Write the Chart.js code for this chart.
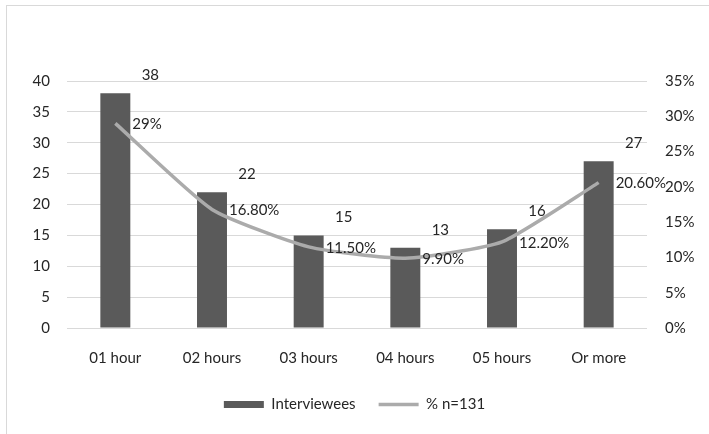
<!DOCTYPE html>
<html>
<head>
<meta charset="utf-8">
<script src="https://cdn.jsdelivr.net/npm/chart.js@4/dist/chart.umd.min.js"></script>
<style>
  html, body { margin: 0; padding: 0; background: #fff; }
  #wrap { position: relative; width: 709px; height: 434px; }
  #frame { position: absolute; left: 6px; top: 5px; right: -10px; bottom: -10px;
           border-left: 1px solid #d9d9d9; border-top: 1px solid #d9d9d9; }
  canvas { position: absolute; left: 0; top: 0; }
</style>
</head>
<body>
<div id="wrap">
  <div id="frame"></div>
  <canvas id="c" width="709" height="434"></canvas>
</div>
<script>
// Time spent per day, number of interviewees and their share
const categories = ['01 hour', '02 hours', '03 hours', '04 hours', '05 hours', 'Or more'];
const interviewees = [38, 22, 15, 13, 16, 27];
const shareLabels = ['29%', '16.80%', '11.50%', '9.90%', '12.20%', '20.60%'];
const shareValues = shareLabels.map(s => parseFloat(s));
const countTicks = [0, 5, 10, 15, 20, 25, 30, 35, 40];
const shareTicks = [0, 5, 10, 15, 20, 25, 30, 35];

const FONT = { family: 'Lato, "Open Sans", sans-serif', size: 15 };
const TEXT = '#262626';
const LINE = '#ababab';

// Writes value labels beside bars and line points
const valueLabels = {
  id: 'valueLabels',
  afterDatasetsDraw(chart) {
    const ctx = chart.ctx;
    ctx.save();
    ctx.font = `${FONT.size}px ${FONT.family}`;
    ctx.fillStyle = TEXT;
    const bars = chart.getDatasetMeta(0).data;
    ctx.textAlign = 'center';
    ctx.textBaseline = 'middle';
    bars.forEach((el, i) => {
      ctx.fillText(String(interviewees[i]), el.x + 35, el.y - 18);
    });
    const pts = chart.getDatasetMeta(1).data;
    ctx.textAlign = 'left';
    pts.forEach((el, i) => {
      ctx.fillText(shareLabels[i], el.x + 17, el.y + 1);
    });
    ctx.restore();
  }
};

new Chart(document.getElementById('c'), {
  data: {
    labels: categories,
    datasets: [
      {
        type: 'bar',
        label: 'Interviewees',
        data: interviewees,
        backgroundColor: '#5a5a5a',
        borderWidth: 0,
        barPercentage: 0.62,
        categoryPercentage: 0.5,
        yAxisID: 'y',
        order: 2
      },
      {
        type: 'line',
        label: '% n=131',
        data: shareValues,
        borderColor: LINE,
        backgroundColor: LINE,
        borderWidth: 3.5,
        pointRadius: 0,
        tension: 0.18,
        fill: false,
        yAxisID: 'y1',
        order: 1
      }
    ]
  },
  options: {
    responsive: false,
    animation: false,
    layout: { padding: { top: 81, bottom: 12, left: 0, right: 0 } },
    plugins: {
      tooltip: { enabled: false },
      legend: {
        position: 'bottom',
        labels: {
          usePointStyle: true,
          pointStyleWidth: 40,
          boxHeight: 7,
          padding: 23,
          color: TEXT,
          font: FONT,
          sort: (a, b) => a.datasetIndex - b.datasetIndex,
          generateLabels(chart) {
            const items = Chart.defaults.plugins.legend.labels.generateLabels(chart);
            items.forEach(it => {
              if (it.datasetIndex === 0) {
                it.pointStyle = 'rect';
                it.lineWidth = 0;
              } else {
                it.pointStyle = 'line';
                it.lineWidth = 3.5;
                it.strokeStyle = LINE;
              }
            });
            return items;
          }
        }
      }
    },
    scales: {
      x: {
        grid: { display: false },
        border: { display: false },
        ticks: { color: TEXT, font: FONT, padding: 13 },
        afterFit(s) { s.height = 46; }
      },
      y: {
        position: 'left',
        min: 0, max: 40,
        afterBuildTicks(s) { s.ticks = countTicks.map(v => ({ value: v })); },
        grid: { color: '#d9d9d9', drawTicks: false, lineWidth: 1 },
        border: { display: false },
        ticks: { color: TEXT, font: FONT, padding: 17 },
        afterFit(s) { s.width = 67; }
      },
      y1: {
        position: 'right',
        min: 0, max: 35,
        afterBuildTicks(s) { s.ticks = shareTicks.map(v => ({ value: v })); },
        grid: { display: false, drawTicks: false },
        border: { display: false },
        ticks: { color: TEXT, font: FONT, padding: 18, callback: v => v + '%' },
        afterFit(s) { s.width = 62; }
      }
    }
  },
  plugins: [valueLabels]
});
</script>
</body>
</html>
